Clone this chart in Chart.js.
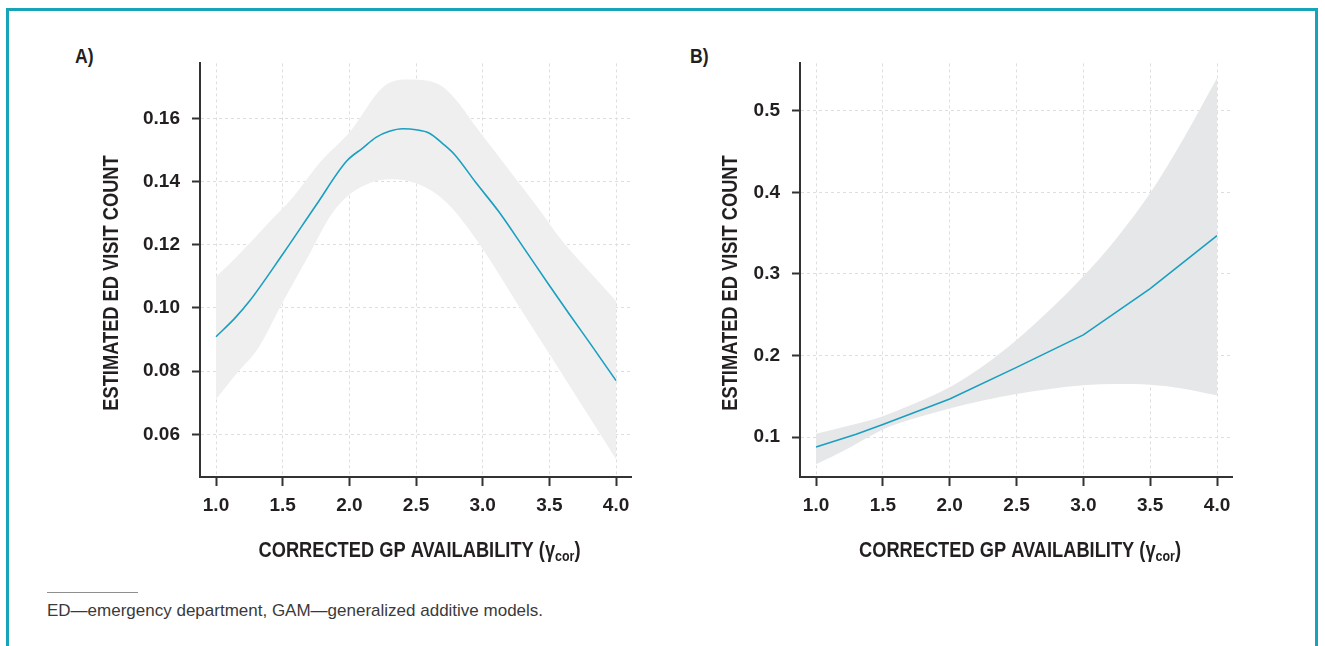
<!DOCTYPE html>
<html>
<head>
<meta charset="utf-8">
<script src="https://cdn.jsdelivr.net/npm/chart.js@4"></script>
<style>
  html, body { margin: 0; padding: 0; background: #ffffff; }
  body { width: 1325px; height: 646px; position: relative; overflow: hidden; }
  #frame { position: absolute; left: 6px; top: 8px; width: 1312px; height: 700px; box-sizing: border-box;
           border: 3px solid #17a3b9; border-bottom: none; }
  .panel { position: absolute; font-family: "Liberation Sans", Arial, sans-serif;
           font-weight: bold; font-size: 20px; color: #231f20; transform: scaleX(0.88); transform-origin: left top; }
  #canvasA { position: absolute; left: 60px; top: 40px; }
  #canvasB { position: absolute; left: 660px; top: 40px; }
  #rule { position: absolute; left: 47px; top: 592px; width: 91px; height: 0; border-top: 1px solid #8f8f8f; }
  #note { position: absolute; left: 47px; top: 601px; font-family: "Liberation Sans", Arial, sans-serif;
          font-size: 17px; color: #3a3a3a; white-space: nowrap; }
</style>
</head>
<body>
<div id="frame"></div>
<div class="panel" id="labA" style="left:75px; top:45px;">A)</div>
<div class="panel" id="labB" style="left:690px; top:45px;">B)</div>
<canvas id="canvasA" width="590" height="540"></canvas>
<canvas id="canvasB" width="590" height="540"></canvas>
<div id="rule"></div>
<div id="note">ED—emergency department, GAM—generalized additive models.</div>
<script>
// ---------- DATA ----------
// Panel A: smooth (GAM) estimate and 95% band
const lineAx  = [1.0, 1.14, 1.25, 1.5, 1.75, 1.98, 2.1, 2.2, 2.3, 2.4, 2.5, 2.6, 2.7, 2.79, 2.95, 3.12, 3.3, 3.5, 3.65, 3.8, 4.0];
const lineAy  = [0.0909, 0.0967, 0.1021, 0.117, 0.1325, 0.1465, 0.1506, 0.1540, 0.1559, 0.1567, 0.1564, 0.1553, 0.1520, 0.1485, 0.1396, 0.1305, 0.1195, 0.1071, 0.0980, 0.0891, 0.0770];
const upperAx = [1.0, 1.15, 1.4, 1.58, 1.78, 2.0, 2.27, 2.45, 2.6, 2.73, 3.0, 3.2, 3.4, 3.6, 3.8, 4.0];
const upperAy = [0.1099, 0.1160, 0.1272, 0.1352, 0.1461, 0.1555, 0.1705, 0.1723, 0.1718, 0.1690, 0.1545, 0.1435, 0.1325, 0.1210, 0.1115, 0.1022];
const lowerAx = [1.0, 1.15, 1.32, 1.49, 1.7, 1.87, 2.01, 2.15, 2.3, 2.47, 2.62, 2.76, 2.99, 3.25, 3.5, 3.75, 4.0];
const lowerAy = [0.0711, 0.0790, 0.0875, 0.1010, 0.1170, 0.1299, 0.1362, 0.1395, 0.1407, 0.1399, 0.1370, 0.1320, 0.1193, 0.1020, 0.0854, 0.0688, 0.0521];

// Panel B
const lineBx  = [1.0, 1.3, 1.5, 2.0, 2.5, 3.0, 3.5, 4.0];
const lineBy  = [0.0878, 0.1033, 0.1154, 0.1467, 0.1854, 0.2252, 0.2820, 0.3470];
const bandBx  = [1.0, 1.25, 1.5, 1.75, 2.0, 2.25, 2.5, 2.75, 3.0, 3.25, 3.5, 3.75, 4.0];
const upperBy = [0.104, 0.114, 0.1256, 0.142, 0.161, 0.187, 0.219, 0.256, 0.297, 0.344, 0.399, 0.466, 0.540];
const lowerBy = [0.0667, 0.087, 0.1093, 0.1236, 0.135, 0.1447, 0.1528, 0.159, 0.1634, 0.165, 0.1642, 0.1593, 0.1512];

// Axis ranges / tick steps
const xRange  = [0.88, 4.112];
const xStep   = 0.5;
const yRangeA = [0.0465, 0.1774];
const yStepA  = 0.02;
const yRangeB = [0.051, 0.558];
const yStepB  = 0.1;

// Text
const yTitle     = 'ESTIMATED ED VISIT COUNT';
const xTitleMain = 'CORRECTED GP AVAILABILITY (γ';
const xTitleSub  = 'cor';
const xTitleEnd  = ')';

// ---------- STYLE ----------
const lineColor = '#1a9fc0';
const inkColor  = '#231f20';
const gridColor = '#dedede';
const titleFont = '"Liberation Sans", Arial, sans-serif';
const tickFont  = '"Liberation Sans", Arial, sans-serif';
const condense  = 0.83;

const pts = (xs, ys) => xs.map((x, i) => ({ x: x, y: ys[i] }));

// Axis titles (condensed bold, x title with subscript)
const axisTitlePlugin = {
  id: 'axisTitles',
  afterDraw(chart, args, opts) {
    const { ctx, chartArea } = chart;
    const mainF = 'bold 22px ' + titleFont;
    const subF = 'bold 15px ' + titleFont;
    ctx.save();
    ctx.fillStyle = inkColor;
    ctx.textBaseline = 'alphabetic';
    ctx.textAlign = 'left';
    // x title
    ctx.font = mainF; const w1 = ctx.measureText(xTitleMain).width; const w3 = ctx.measureText(xTitleEnd).width;
    ctx.font = subF;  const w2 = ctx.measureText(xTitleSub).width;
    const cx = (chartArea.left + chartArea.right) / 2 + 4;
    ctx.save();
    ctx.translate(cx, chartArea.bottom + 80);
    ctx.scale(condense, 1);
    let x = -(w1 + w2 + w3) / 2;
    ctx.font = mainF; ctx.fillText(xTitleMain, x, 0); x += w1;
    ctx.font = subF;  ctx.fillText(xTitleSub, x, 4); x += w2;
    ctx.font = mainF; ctx.fillText(xTitleEnd, x, 0);
    ctx.restore();
    // y title
    ctx.save();
    ctx.translate(opts.yTitleX, opts.yTitleY);
    ctx.rotate(-Math.PI / 2);
    ctx.scale(condense, 1);
    ctx.font = mainF;
    ctx.textAlign = 'center';
    ctx.textBaseline = 'middle';
    ctx.fillText(yTitle, 0, 0);
    ctx.restore();
    ctx.restore();
  }
};

function makeChart(id, datasets, yRange, yStep, yDigits, rightPad, yTitleX) {
  return new Chart(document.getElementById(id), {
    type: 'line',
    data: { datasets: datasets },
    options: {
      responsive: false,
      animation: false,
      events: [],
      layout: { padding: { top: 22, right: rightPad, left: 0, bottom: 0 } },
      plugins: { legend: { display: false }, tooltip: { enabled: false },
                 axisTitles: { yTitleX: yTitleX, yTitleY: 243 } },
      elements: { point: { radius: 0 } },
      scales: {
        x: {
          type: 'linear',
          min: xRange[0], max: xRange[1],
          afterFit: (axis) => { axis.height = 103; },
          ticks: { stepSize: xStep, includeBounds: false, color: inkColor, padding: 8,
                   font: { family: tickFont, size: 19, weight: 'bold' },
                   callback: (v) => Number(v).toFixed(1) },
          grid: { color: gridColor, lineWidth: 1, drawTicks: true, tickLength: 9,
                  tickColor: '#333333', tickWidth: 2, tickBorderDash: [] },
          border: { display: true, color: '#333333', width: 2, dash: [3, 3] }
        },
        y: {
          type: 'linear',
          min: yRange[0], max: yRange[1],
          afterFit: (axis) => { axis.width = 140; },
          ticks: { stepSize: yStep, includeBounds: false, color: inkColor, padding: 12,
                   font: { family: tickFont, size: 19, weight: 'bold' },
                   callback: (v) => Number(v).toFixed(yDigits) },
          grid: { color: gridColor, lineWidth: 1, drawTicks: true, tickLength: 8,
                  tickColor: '#333333', tickWidth: 2, tickBorderDash: [] },
          border: { display: true, color: '#333333', width: 2, dash: [3, 3] },
          title: { display: false, text: yTitle }
        }
      }
    },
    plugins: [axisTitlePlugin]
  });
}

function dsets(lx, ly, ux, uy, lox, loy, fillColor, lineMode) {
  const line = { label: 'estimate', data: pts(lx, ly), borderColor: lineColor, borderWidth: 1.6,
                 fill: false, pointRadius: 0 };
  if (lineMode === 'monotone') line.cubicInterpolationMode = 'monotone'; else line.tension = 0;
  return [
    line,
    { label: 'upper', data: pts(ux, uy), borderWidth: 0, borderColor: 'rgba(0,0,0,0)',
      backgroundColor: fillColor, fill: '+1', cubicInterpolationMode: 'monotone', pointRadius: 0 },
    { label: 'lower', data: pts(lox, loy), borderWidth: 0, borderColor: 'rgba(0,0,0,0)',
      backgroundColor: fillColor, fill: false, cubicInterpolationMode: 'monotone', pointRadius: 0 }
  ];
}

makeChart('canvasA', dsets(lineAx, lineAy, upperAx, upperAy, lowerAx, lowerAy, '#efefef', 'monotone'),
          yRangeA, yStepA, 2, 19, 52);
makeChart('canvasB', dsets(lineBx, lineBy, bandBx, upperBy, bandBx, lowerBy, '#e6e7e8', 'linear'),
          yRangeB, yStepB, 1, 18, 71);
</script>
</body>
</html>
